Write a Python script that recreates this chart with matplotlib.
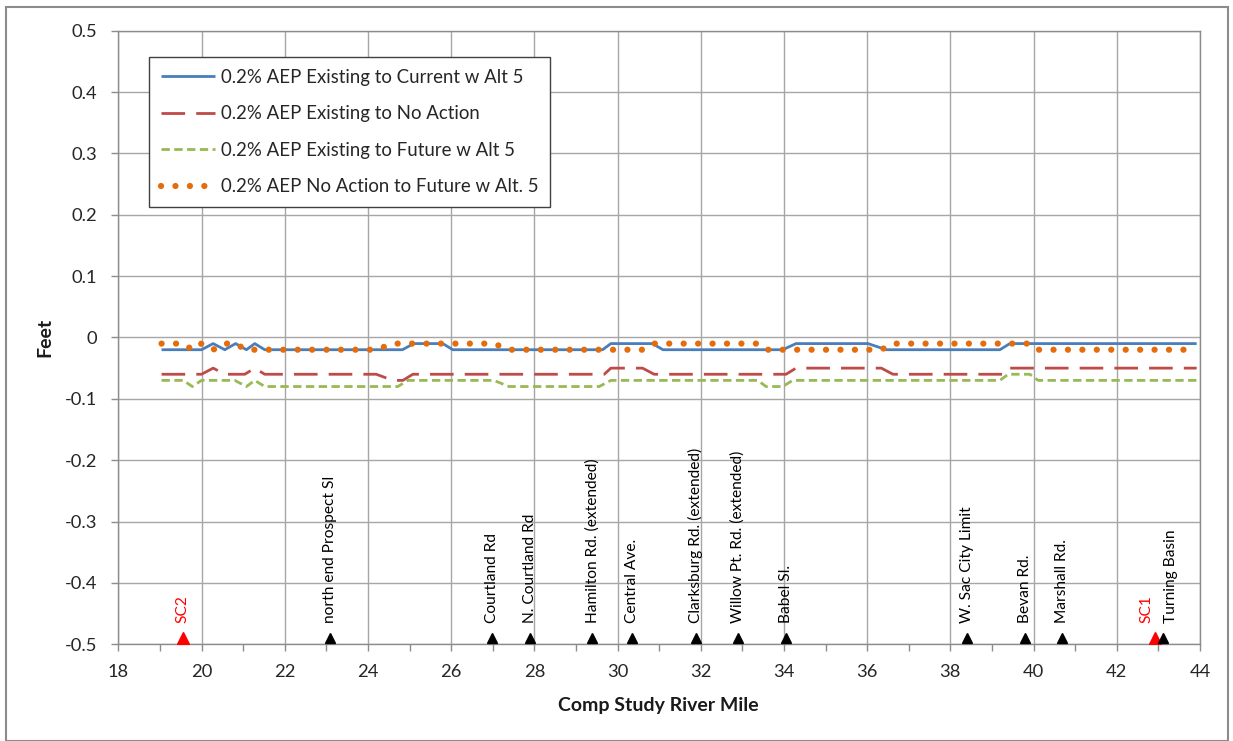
import matplotlib
matplotlib.use("Agg")
import matplotlib.pyplot as plt
from matplotlib.patches import Rectangle
from matplotlib.ticker import MultipleLocator, FuncFormatter

plt.rcParams['font.family'] = ['Lato', 'DejaVu Sans']

# ---------------- data ----------------
# 0.2% AEP Existing to Current w Alt 5
cur_x = [19.04, 20.0, 20.28, 20.56, 20.82, 21.08, 21.28, 21.52, 24.83, 25.1, 25.8, 26.04,
         29.64, 29.84, 30.84, 31.09, 33.97, 34.29, 36.02, 36.46, 39.19, 39.43, 43.92]
cur_y = [-0.02, -0.02, -0.01, -0.02, -0.01, -0.02, -0.01, -0.02, -0.02, -0.01, -0.01, -0.02,
         -0.02, -0.01, -0.01, -0.02, -0.02, -0.01, -0.01, -0.02, -0.02, -0.01, -0.01]

# 0.2% AEP Existing to No Action
noact_x = [19.04, 20.0, 20.28, 20.56, 21.04, 21.28, 21.52, 24.2, 24.6, 24.84, 25.08,
           29.68, 29.84, 30.6, 30.88, 34.05, 34.29, 36.34, 36.62, 39.31, 39.43, 43.92]
noact_y = [-0.06, -0.06, -0.05, -0.06, -0.06, -0.05, -0.06, -0.06, -0.07, -0.07, -0.06,
           -0.06, -0.05, -0.05, -0.06, -0.06, -0.05, -0.05, -0.06, -0.06, -0.05, -0.05]

# 0.2% AEP Existing to Future w Alt 5
fut_x = [19.04, 19.56, 19.78, 20.0, 20.8, 21.08, 21.28, 21.52, 24.72, 24.96, 27.03, 27.39,
         29.56, 29.84, 33.37, 33.57, 33.97, 34.21, 39.19, 39.39, 39.91, 40.11, 43.92]
fut_y = [-0.07, -0.07, -0.08, -0.07, -0.07, -0.08, -0.07, -0.08, -0.08, -0.07, -0.07, -0.08,
         -0.08, -0.07, -0.07, -0.08, -0.08, -0.07, -0.07, -0.06, -0.06, -0.07, -0.07]

# 0.2% AEP No Action to Future w Alt. 5
naf_x = [19.04, 19.56, 19.78, 20.0, 20.28, 20.56, 20.8, 21.08, 24.2, 24.6, 27.03, 27.39,
         30.6, 30.88, 33.37, 33.57, 36.34, 36.62, 39.91, 40.11, 43.92]
naf_y = [-0.01, -0.01, -0.02, -0.01, -0.02, -0.01, -0.01, -0.02, -0.02, -0.01, -0.01, -0.02,
         -0.02, -0.01, -0.01, -0.02, -0.02, -0.01, -0.01, -0.02, -0.02]

series_labels = ["0.2% AEP Existing to Current w Alt 5",
                 "0.2% AEP Existing to No Action",
                 "0.2% AEP Existing to Future w Alt 5",
                 "0.2% AEP No Action to Future w Alt. 5"]

# landmarks along the river
landmark_names = ["SC2", "north end Prospect Sl", "Courtland Rd", "N. Courtland Rd",
                  "Hamilton Rd. (extended)", "Central Ave.", "Clarksburg Rd. (extended)",
                  "Willow Pt. Rd. (extended)", "Babel Sl.", "W. Sac City Limit",
                  "Bevan Rd.", "Marshall Rd.", "SC1", "Turning Basin"]
landmark_miles = [19.55, 23.09, 26.99, 27.9, 29.39, 30.34, 31.88, 32.89, 34.06,
                  38.4, 39.8, 40.69, 42.92, 43.11]
landmark_level = -0.49

x_ticks = list(range(18, 45, 2))
y_ticks = [-0.5, -0.4, -0.3, -0.2, -0.1, 0.0, 0.1, 0.2, 0.3, 0.4, 0.5]

# ---------------- figure ----------------
W, H = 1233, 741
fig = plt.figure(figsize=(W / 100, H / 100), dpi=100)
ax = fig.add_axes([118.3 / W, 1 - 644.2 / H, (1200 - 118.3) / W, (644.2 - 30.7) / H])

fig.patches.append(Rectangle((6 / W, 0.5 / H), (1228 - 6) / W, (740 - 6.5) / H,
                             transform=fig.transFigure, fill=False,
                             edgecolor='#8c8c8c', linewidth=1.5, zorder=0))

grid_c = '#a6a6a6'
ax.plot(cur_x, cur_y, color='#4a7ebb', lw=2.0, label=series_labels[0],
        solid_capstyle='butt', zorder=5)
ax.plot(noact_x, noact_y, color='#be4b48', lw=2.0, label=series_labels[1],
        dashes=(8.5, 4.0), zorder=4)
ax.plot(fut_x, fut_y, color='#98b954', lw=2.0, label=series_labels[2],
        dashes=(3.0, 1.6), zorder=4)
ax.plot(naf_x, naf_y, color='#e46c0a', lw=4.5, label=series_labels[3],
        dashes=(0.01, 2.3), dash_capstyle='round', zorder=6)

# landmarks
for name, m in zip(landmark_names, landmark_miles):
    is_sc = name.startswith("SC")
    col = '#ff0000' if is_sc else 'black'
    ax.plot([m], [landmark_level], marker='^', linestyle='none',
            color=col, markersize=9 if is_sc else 6.5, zorder=7)
    dx = 0.0
    if name == "SC1":
        dx = -6
    elif name == "Turning Basin":
        dx = 6
    ax.annotate(name, xy=(m, landmark_level), xytext=(dx, 11),
                textcoords='offset points', rotation=90, ha='center', va='bottom',
                fontsize=11.2, color=col, zorder=8)

ax.set_xlim(18, 44)
ax.set_ylim(-0.5, 0.5)
ax.set_xticks(x_ticks)
ax.xaxis.set_minor_locator(MultipleLocator(1))
ax.set_yticks(y_ticks)
ax.yaxis.set_major_formatter(FuncFormatter(lambda v, p: "0" if abs(v) < 1e-9 else f"{v:.1f}"))
ax.grid(True, which='major', color=grid_c, linewidth=1.0, zorder=0)
ax.set_axisbelow(True)
for s in ax.spines.values():
    s.set_color('#8c8c8c')
    s.set_linewidth(1.0)

ax.tick_params(axis='both', which='both', direction='out', color='#8c8c8c',
               length=5, width=1.0, labelsize=13.2, labelcolor='#262626')
ax.tick_params(axis='x', which='both', pad=9)
ax.tick_params(axis='y', which='both', pad=10)

ax.set_xlabel("Comp Study River Mile", fontsize=14, fontweight='bold', color='#1a1a1a')
ax.xaxis.set_label_coords((658 - 118.3) / (1200 - 118.3), (644.2 - 706) / 613.5)
ax.xaxis.label.set_va('center')
ax.set_ylabel("Feet", fontsize=14, fontweight='bold', color='#1a1a1a')
ax.yaxis.set_label_coords((45 - 118.3) / (1200 - 118.3), 0.5)
ax.yaxis.label.set_va('center')

leg = ax.legend(loc='upper left', bbox_to_anchor=((149 - 118.3) / 1081.7, 1 - (57 - 30.7) / 613.5),
                borderaxespad=0, fontsize=13.4, frameon=True, fancybox=False,
                edgecolor='#404040', framealpha=1, handlelength=2.95, handletextpad=0.3,
                labelspacing=1.05, borderpad=0.62)
leg.get_frame().set_linewidth(1.0)
for t in leg.get_texts():
    t.set_color('#262626')

fig.savefig("out.png", dpi=100)
